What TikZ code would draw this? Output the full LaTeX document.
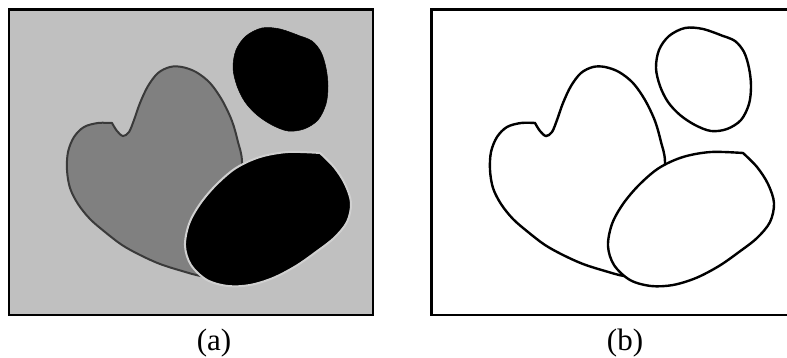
\documentclass[tikz,border=0pt]{standalone}
\usepackage{fontspec}
\setmainfont{Liberation Serif}
\definecolor{bg}{HTML}{C0C0C0}
\definecolor{heartfill}{HTML}{808080}
\definecolor{heartline}{HTML}{3A3A3A}
\definecolor{lightline}{HTML}{D0D0D0}
\tikzset{
  frameA/.style={draw=black, line width=2.4pt, fill=bg},
  frameB/.style={draw=black, line width=2.4pt, fill=white},
  heartA/.style={fill=heartfill, draw=heartline, line width=2pt},
  ovalA/.style={fill=black, draw=lightline, line width=2pt},
  blobA/.style={fill=black, draw=black, line width=0.5pt},
  shapeB/.style={fill=white, draw=black, line width=2.4pt},
  caption/.style={font=\fontsize{31}{31}\selectfont, anchor=base, inner sep=0pt}
}
\newcommand{\heartpath}{plot[smooth, tension=0.55] coordinates {(112,123) (117,131) (123,136) (129,132) (134,120) (140,103) (148,86) (158,73) (170,67) (182,67) (196,72) (210,83) (222,100) (232,121) (238,142) (242,162) (240,205) (232,250) (220,277) (201,276) (182,271) (160,264) (140,255) (122,245) (105,232) (90,219) (78,204) (70,188) (67,170) (68,152) (74,137) (84,127) (98,123) (112,123)} -- cycle}
\newcommand{\ovalpath}{plot[smooth, tension=0.55] coordinates {(320,153) (334,167) (345,184) (351,203) (347,222) (334,238) (316,252) (296,266) (273,278) (250,285) (228,286) (207,280) (191,265) (185,246) (189,224) (200,204) (216,185) (236,168) (260,157) (288,152) (320,153)} -- cycle}
\newcommand{\blobpath}{plot[smooth, tension=0.55] coordinates {(300,36) (312,41) (321,52) (326,68) (328,86) (326,104) (318,120) (304,129) (288,131) (272,125) (257,115) (245,102) (237,86) (233,68) (236,50) (246,36) (262,28) (280,29) (300,36)} -- cycle}
\begin{document}
\begin{tikzpicture}[x=1pt, y=-1pt]
\useasboundingbox (0,0) rectangle (787,358);
% panel (a)
\path[frameA] (9,9.5) rectangle (373,315);
\path[heartA] \heartpath;
\path[ovalA] \ovalpath;
\path[blobA] \blobpath;
\node[caption] (capa) at (214,350) {(a)};
% panel (b)
\path[frameB] (431.5,9.5) rectangle (795,315);
\begin{scope}[xshift=423pt]
\path[shapeB] \heartpath;
\path[shapeB] \ovalpath;
\path[shapeB] \blobpath;
\end{scope}
\node[caption] (capb) at (625,350) {(b)};
\end{tikzpicture}
\end{document}
